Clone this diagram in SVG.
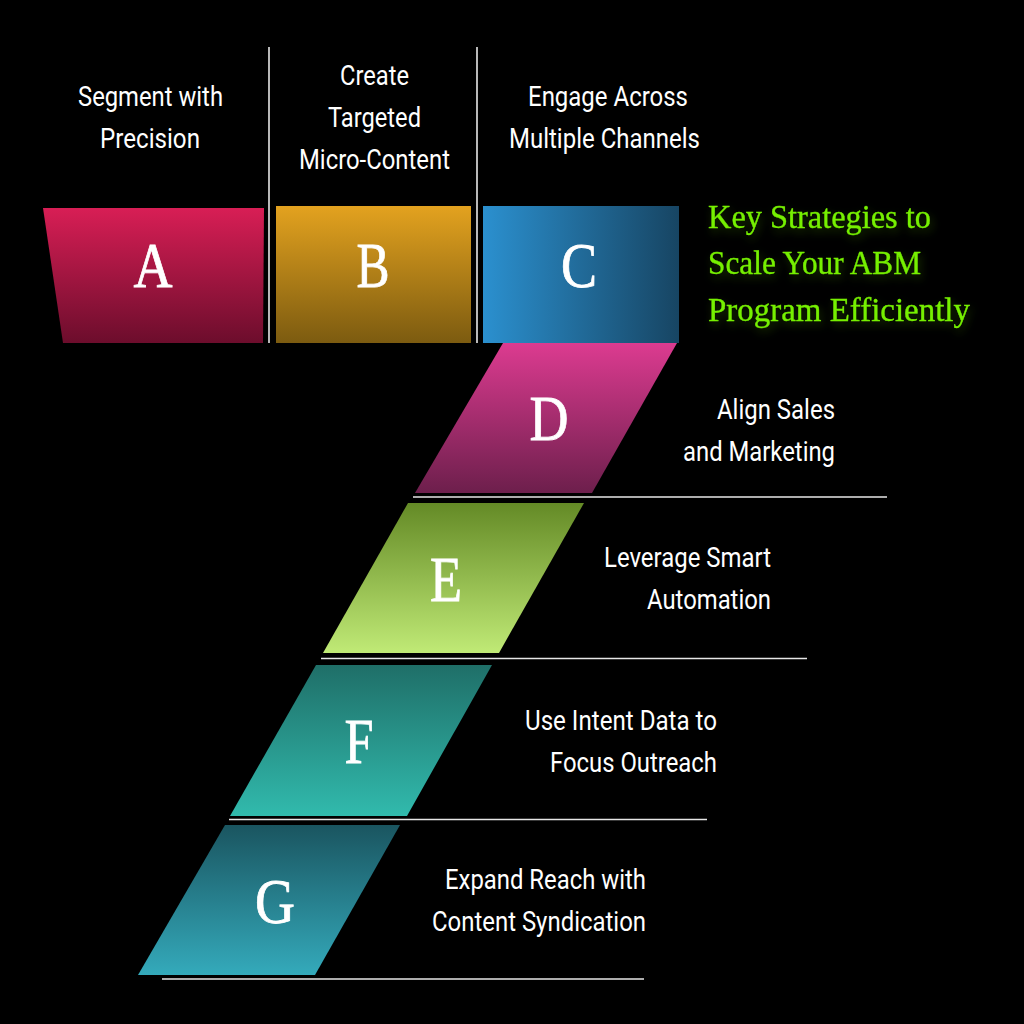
<svg xmlns="http://www.w3.org/2000/svg" width="1024" height="1024" viewBox="0 0 1024 1024">
<style>
.t{font-family:"Roboto","Liberation Sans",sans-serif;font-size:27px;fill:#fff}
.l{font-family:"Liberation Serif","DejaVu Serif",serif;font-size:64px;fill:#fff;stroke:#fff;stroke-width:.8;text-anchor:middle}
.h{font-family:"Liberation Serif","DejaVu Serif",serif;font-size:33px;fill:#76f000;stroke:#76f000;stroke-width:.35;filter:url(#sh)}
.r{stroke:#e6e6e6;stroke-width:1.6;fill:none}
</style>
<defs>
<filter id="sh" x="-10%" y="-30%" width="120%" height="180%"><feDropShadow dx="2" dy="4" stdDeviation="4" flood-color="#76f000" flood-opacity=".22"/></filter>
<linearGradient id="ga" x1="0" y1="0" x2="0" y2="1"><stop offset="0" stop-color="#d81e55"/><stop offset="1" stop-color="#6c0d2c"/></linearGradient>
<linearGradient id="gb" x1="0" y1="0" x2="0" y2="1"><stop offset="0" stop-color="#e3a21f"/><stop offset="1" stop-color="#7c5b10"/></linearGradient>
<linearGradient id="gc" x1="0" y1="0" x2="1" y2="0"><stop offset="0" stop-color="#2b90cf"/><stop offset="1" stop-color="#174563"/></linearGradient>
<linearGradient id="gd" x1="0" y1="0" x2="0" y2="1"><stop offset="0" stop-color="#dc3b90"/><stop offset="1" stop-color="#6d1f4c"/></linearGradient>
<linearGradient id="ge" x1="0" y1="0" x2="0" y2="1"><stop offset="0" stop-color="#648a26"/><stop offset="1" stop-color="#c0ea76"/></linearGradient>
<linearGradient id="gf" x1="0" y1="0" x2="0" y2="1"><stop offset="0" stop-color="#1f6f68"/><stop offset="1" stop-color="#31baad"/></linearGradient>
<linearGradient id="gg" x1="0" y1="0" x2="0" y2="1"><stop offset="0" stop-color="#1a5560"/><stop offset="1" stop-color="#34aabb"/></linearGradient>
</defs>
<rect width="1024" height="1024" fill="#000"/>
<g id="connectors">
<path class="r" d="M269 47V343M477 47V343M413 497H887M321 658.500H807M229 819.500H707M162 979H644"/>
</g>
<g id="node-a"><path d="M43 208H264L263 343H63Z" fill="url(#ga)"/><text class="l" x="153" y="287" textLength="39" lengthAdjust="spacingAndGlyphs">A</text></g>
<g id="node-b"><rect x="276" y="206" width="195" height="137" fill="url(#gb)"/><text class="l" x="373" y="287" textLength="33" lengthAdjust="spacingAndGlyphs">B</text></g>
<g id="node-c"><rect x="483" y="206" width="196" height="137" fill="url(#gc)"/><text class="l" x="579" y="287" textLength="36" lengthAdjust="spacingAndGlyphs">C</text></g>
<g id="node-d"><path d="M503 343H677L592 493H415Z" fill="url(#gd)"/><text class="l" x="549" y="440" textLength="39" lengthAdjust="spacingAndGlyphs">D</text></g>
<g id="node-e"><path d="M408 503H584L499 653H323Z" fill="url(#ge)"/><text class="l" x="446" y="601" textLength="32" lengthAdjust="spacingAndGlyphs">E</text></g>
<g id="node-f"><path d="M316 665H492L407 816H230Z" fill="url(#gf)"/><text class="l" x="359" y="763" textLength="29" lengthAdjust="spacingAndGlyphs">F</text></g>
<g id="node-g"><path d="M225 825H400L315 975H138Z" fill="url(#gg)"/><text class="l" x="275" y="923" textLength="40" lengthAdjust="spacingAndGlyphs">G</text></g>
<g id="labels">
<text class="t" x="78" y="106" textLength="145" lengthAdjust="spacingAndGlyphs">Segment with</text>
<text class="t" x="100" y="148" textLength="100" lengthAdjust="spacingAndGlyphs">Precision</text>
<text class="t" x="340" y="85" textLength="69" lengthAdjust="spacingAndGlyphs">Create</text>
<text class="t" x="328" y="127" textLength="93" lengthAdjust="spacingAndGlyphs">Targeted</text>
<text class="t" x="299" y="169" textLength="151" lengthAdjust="spacingAndGlyphs">Micro-Content</text>
<text class="t" x="528" y="106" textLength="160" lengthAdjust="spacingAndGlyphs">Engage Across</text>
<text class="t" x="509" y="148" textLength="191" lengthAdjust="spacingAndGlyphs">Multiple Channels</text>
<text class="t" x="717" y="419" textLength="118" lengthAdjust="spacingAndGlyphs">Align Sales</text>
<text class="t" x="683" y="461" textLength="152" lengthAdjust="spacingAndGlyphs">and Marketing</text>
<text class="t" x="604" y="567" textLength="167" lengthAdjust="spacingAndGlyphs">Leverage Smart</text>
<text class="t" x="647" y="609" textLength="124" lengthAdjust="spacingAndGlyphs">Automation</text>
<text class="t" x="525" y="730" textLength="192" lengthAdjust="spacingAndGlyphs">Use Intent Data to</text>
<text class="t" x="550" y="772" textLength="167" lengthAdjust="spacingAndGlyphs">Focus Outreach</text>
<text class="t" x="445" y="889" textLength="201" lengthAdjust="spacingAndGlyphs">Expand Reach with</text>
<text class="t" x="432" y="931" textLength="214" lengthAdjust="spacingAndGlyphs">Content Syndication</text>
</g>
<g id="title">
<text class="h" x="708" y="228" textLength="223" lengthAdjust="spacingAndGlyphs">Key Strategies to</text>
<text class="h" x="708" y="274" textLength="213" lengthAdjust="spacingAndGlyphs">Scale Your ABM</text>
<text class="h" x="708" y="321" textLength="262" lengthAdjust="spacingAndGlyphs">Program Efficiently</text>
</g>
</svg>
